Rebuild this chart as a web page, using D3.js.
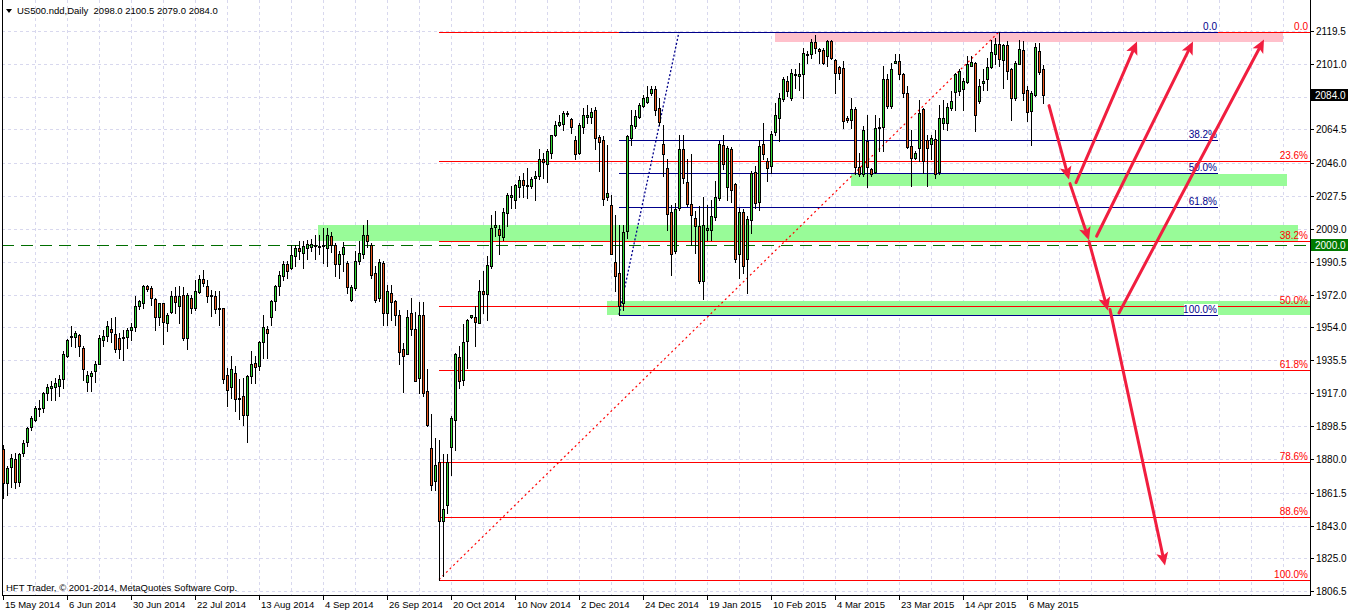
<!DOCTYPE html>
<html><head><meta charset="utf-8">
<script src="https://cdn.jsdelivr.net/npm/d3@7"></script>
<style>
body{margin:0;background:#fff;}
svg{display:block;font-family:"Liberation Sans",Arial,sans-serif;}
</style></head><body>
<svg id="c" width="1350" height="613"></svg>
<script>
// ---------------- DATA ----------------
const openP=[1885.6,1867.1,1876.0,1880.0,1867.7,1883.9,1890.0,1898.4,1902.3,1908.5,
1909.0,1916.9,1920.2,1920.8,1921.0,1925.2,1937.8,1948.2,1948.2,1949.6,
1942.3,1923.3,1926.6,1929.4,1933.3,1947.0,1949.0,1953.2,1950.4,1947.9,
1947.9,1948.2,1952.6,1954.0,1966.0,1967.7,1976.7,1975.8,1969.7,1959.9,
1967.4,1956.5,1962.4,1971.4,1966.0,1972.2,1947.9,1970.2,1964.6,1973.6,
1980.9,1977.2,1971.9,1971.6,1964.6,1964.6,1927.5,1920.5,1928.3,1914.6,
1915.5,1904.8,1926.6,1933.9,1932.2,1945.4,1953.2,1959.6,1968.6,1977.2,
1982.5,1989.2,1987.0,1993.7,1998.2,1995.4,1998.2,1998.8,1999.6,1998.5,
1999.6,1998.3,2004.8,2000.1,1989.0,1994.6,1989.9,1969.0,1975.9,1990.8,
1994.6,2005.2,2000.1,1984.3,1970.4,1989.9,1962.0,1973.1,1968.4,1960.5,
1941.5,1938.7,1962.1,1953.2,1925.8,1960.5,1918.1,1886.5,1867.8,1878.7,
1845.5,1854.8,1887.1,1902.0,1937.4,1924.3,1946.1,1959.7,1959.7,1956.4,
1974.4,1972.6,1988.0,2010.0,2008.9,2004.4,2017.9,2026.6,2024.9,2032.4,
2036.1,2033.7,2032.7,2037.4,2038.3,2048.2,2045.3,2051.4,2061.6,2066.8,
2067.6,2073.0,2070.4,2058.5,2051.4,2065.9,2071.3,2071.5,2075.6,2060.1,
2058.3,2026.8,2022.5,1990.5,1984.3,1967.6,2007.6,2059.8,2066.3,2071.5,
2077.8,2079.7,2084.9,2087.2,2076.6,2056.6,2043.0,2018.4,1996.4,2020.7,
2053.6,2035.2,2022.9,2015.1,2010.4,1979.6,2008.1,2008.1,2015.6,2026.2,
2055.7,2032.4,2053.6,2034.1,1994.6,2018.4,1991.8,2014.1,2040.6,2023.8,
2056.4,2046.7,2043.9,2062.9,2071.0,2081.6,2091.8,2081.8,2094.8,2094.6,
2095.2,2106.0,2106.4,2113.2,2109.2,2108.8,2105.4,2113.8,2103.2,2099.3,
2098.9,2071.0,2069.6,2076.0,2043.6,2039.3,2057.9,2042.5,2040.6,2065.7,
2065.9,2092.4,2077.5,2101.7,2103.0,2095.7,2084.9,2055.5,2048.6,2054.2,
2076.0,2058.3,2056.6,2059.2,2040.6,2067.8,2067.8,2076.6,2085.3,2085.8,
2087.2,2091.1,2100.2,2101.7,2080.3,2090.5,2092.4,2099.5,2106.4,2112.5,
2103.2,2111.4,2098.4,2081.8,2101.2,2108.8,2086.8,2074.7,2084.0,2108.6,
2098.0];
const highP=[1888.3,1876.6,1882.8,1883.9,1883.9,1891.1,1898.4,1904.3,1909.9,1913.5,
1918.0,1922.4,1923.8,1925.8,1927.5,1940.6,1947.6,1954.6,1951.8,1950.4,
1943.4,1929.4,1929.4,1935.0,1949.8,1952.6,1957.3,1959.1,1959.6,1950.7,
1952.6,1953.5,1956.3,1971.6,1969.4,1977.8,1977.8,1977.0,1970.5,1967.7,
1967.7,1961.9,1974.0,1976.4,1976.8,1976.4,1973.0,1972.2,1980.6,1983.4,
1985.9,1980.6,1975.0,1974.0,1973.9,1964.9,1931.1,1937.8,1932.5,1925.0,
1925.5,1927.5,1940.9,1937.7,1946.2,1960.5,1954.6,1969.4,1977.8,1985.3,
1990.9,1990.9,2000.1,2000.1,2002.1,2002.1,2002.9,2003.3,2005.7,2005.2,
2009.6,2009.6,2006.9,2001.1,1996.8,2001.3,1990.8,1977.8,1996.4,2002.0,
2010.8,2014.1,2001.1,1988.0,1991.8,1990.8,1977.8,1977.8,1969.4,1963.8,
1945.2,1963.8,1970.5,1962.7,1968.3,1967.9,1930.7,1905.7,1892.1,1890.8,
1882.8,1882.8,1904.2,1939.6,1943.7,1956.0,1958.6,1961.0,1966.0,1980.6,
1985.2,1993.6,2016.4,2018.8,2010.8,2020.7,2028.7,2032.7,2034.2,2038.7,
2040.4,2043.0,2038.0,2041.1,2053.6,2051.4,2053.6,2061.6,2069.1,2072.8,
2074.7,2074.7,2071.0,2060.7,2068.2,2076.6,2078.4,2076.6,2077.1,2061.6,
2060.7,2056.0,2028.1,2016.9,2011.3,2011.3,2061.6,2075.6,2075.6,2079.4,
2084.0,2088.6,2088.6,2088.6,2082.1,2066.7,2047.7,2022.5,2023.1,2061.1,
2061.6,2047.7,2050.5,2018.8,2021.6,2026.8,2022.5,2025.3,2035.5,2057.9,
2061.6,2055.1,2054.8,2034.6,2020.7,2020.1,2016.0,2041.1,2043.9,2058.5,
2068.2,2048.6,2063.5,2079.4,2084.9,2093.9,2094.2,2098.0,2098.0,2101.7,
2110.1,2108.2,2115.1,2117.5,2110.1,2110.1,2114.7,2114.7,2104.0,2099.8,
2102.6,2071.9,2082.1,2077.1,2051.4,2066.3,2072.8,2043.0,2072.8,2071.0,
2099.8,2095.2,2101.7,2106.4,2106.4,2096.1,2089.0,2064.4,2052.3,2081.2,
2076.6,2061.1,2061.6,2064.4,2078.4,2081.2,2079.4,2085.8,2096.1,2098.0,
2093.3,2105.4,2105.4,2102.0,2092.4,2098.0,2104.5,2114.4,2115.7,2119.0,
2112.0,2113.8,2098.9,2102.6,2114.7,2113.8,2088.6,2085.8,2112.9,2112.9,
2100.5];
const lowP=[1858.7,1860.4,1864.9,1864.3,1865.4,1882.2,1887.8,1896.4,1901.5,1904.3,
1906.5,1913.5,1913.5,1913.5,1915.5,1919.7,1937.5,1943.4,1942.6,1937.8,
1924.7,1918.3,1918.3,1923.3,1933.1,1943.4,1946.1,1945.4,1940.1,1936.7,
1935.6,1942.3,1947.0,1951.8,1964.1,1964.6,1974.2,1966.6,1952.6,1955.4,
1944.3,1951.7,1961.9,1962.1,1956.5,1947.0,1941.5,1961.9,1963.8,1973.0,
1977.0,1968.0,1960.2,1961.9,1955.4,1922.7,1909.9,1914.3,1907.1,1902.6,
1899.3,1890.0,1922.7,1922.8,1930.3,1936.7,1936.7,1955.4,1963.8,1972.2,
1980.6,1981.4,1986.2,1988.1,1991.8,1987.0,1991.8,1996.4,1991.8,1994.6,
1990.1,1988.0,1995.7,1982.4,1981.7,1985.2,1973.1,1968.4,1975.0,1989.0,
1992.7,1999.0,1981.5,1967.9,1968.4,1955.4,1955.4,1958.2,1955.4,1933.1,
1917.6,1938.7,1949.8,1923.6,1917.4,1915.3,1898.6,1863.2,1863.2,1812.9,
1814.7,1850.2,1871.6,1885.2,1920.0,1921.9,1931.2,1959.3,1943.7,1956.4,
1961.9,1958.2,1987.1,2004.8,1994.6,2002.9,2010.4,2020.7,2020.3,2026.8,
2026.8,2026.2,2031.8,2024.9,2036.9,2037.4,2035.0,2048.6,2060.7,2066.3,
2064.4,2071.9,2062.6,2047.7,2050.5,2062.6,2068.2,2068.2,2053.3,2041.1,
2022.5,2025.3,1994.6,1974.0,1961.0,1963.8,2003.9,2056.0,2065.5,2071.0,
2077.1,2079.4,2084.0,2072.3,2067.2,2038.3,2008.5,1983.4,1995.5,2019.7,
2034.6,2021.6,2000.1,1995.5,1978.7,1969.8,2002.9,2002.9,2014.1,2025.3,
2042.1,2025.3,2023.8,1990.3,1981.5,1984.3,1973.1,2006.7,2020.7,2019.7,
2048.1,2035.5,2040.2,2061.6,2057.9,2080.3,2083.0,2081.2,2087.7,2086.8,
2081.8,2101.7,2104.5,2107.3,2101.7,2100.8,2099.8,2103.9,2084.6,2092.8,
2065.4,2068.9,2065.4,2039.3,2038.3,2038.3,2032.4,2038.3,2040.2,2052.3,
2052.3,2076.6,2076.6,2101.7,2092.4,2082.7,2054.2,2033.1,2047.7,2046.7,
2040.2,2032.7,2047.7,2037.4,2039.8,2064.8,2064.4,2075.6,2075.6,2084.0,
2075.6,2090.5,2099.8,2063.5,2079.5,2086.8,2086.8,2098.9,2100.8,2099.8,
2087.7,2092.4,2069.6,2080.8,2100.8,2080.8,2069.1,2056.0,2083.0,2095.2,
2079.0];
const closeP=[1867.0,1875.0,1881.1,1867.7,1883.3,1889.5,1897.8,1903.4,1909.0,1908.8,
1917.4,1920.8,1921.3,1922.7,1925.2,1938.7,1947.0,1949.3,1950.7,1943.7,
1930.5,1927.5,1928.3,1933.3,1947.9,1949.3,1954.6,1951.2,1941.7,1941.7,
1948.2,1952.6,1954.0,1966.0,1968.6,1977.2,1975.5,1970.2,1959.6,1967.4,
1956.8,1961.0,1971.4,1968.0,1971.4,1947.9,1972.2,1964.4,1974.1,1980.9,
1978.4,1971.6,1971.4,1964.1,1964.1,1925.0,1919.1,1930.5,1913.8,1914.3,
1904.8,1926.6,1933.1,1931.7,1945.6,1954.0,1950.7,1968.6,1977.2,1983.4,
1989.2,1985.3,1994.5,1998.2,1996.5,1999.3,2000.7,2000.7,2000.1,1999.2,
2000.1,2005.2,2000.1,1989.0,1994.6,1998.9,1976.5,1976.5,1990.8,1995.5,
2005.7,2002.4,1983.4,1969.0,1990.2,1962.0,1974.0,1967.9,1960.5,1939.9,
1938.1,1959.7,1953.2,1924.1,1961.0,1916.9,1899.1,1865.6,1877.2,1845.5,
1852.4,1878.7,1903.3,1938.7,1923.7,1945.7,1957.7,1960.5,1956.7,1974.0,
1972.6,1988.6,2009.5,2010.8,2005.3,2018.4,2027.9,2027.9,2033.7,2036.1,
2033.7,2032.7,2036.9,2038.7,2048.1,2046.2,2052.3,2061.1,2067.2,2068.5,
2073.8,2073.8,2065.9,2050.8,2066.7,2072.8,2072.8,2074.1,2059.8,2057.6,
2025.7,2029.0,1995.0,1982.4,1965.6,2007.2,2060.7,2067.2,2071.9,2078.4,
2081.8,2082.7,2087.2,2075.2,2068.5,2050.5,2017.3,1995.0,2020.1,2053.6,
2037.4,2022.9,2016.9,2010.4,1979.6,2010.9,2009.5,2016.0,2026.8,2056.4,
2044.9,2054.2,2030.9,1991.8,2018.4,1988.4,2014.5,2040.2,2023.1,2055.5,
2050.5,2043.0,2062.0,2072.4,2082.1,2092.8,2085.8,2096.1,2095.7,2095.2,
2107.3,2106.8,2113.2,2110.1,2108.6,2101.7,2113.8,2104.5,2096.1,2096.1,
2069.1,2069.6,2076.0,2043.6,2039.3,2064.4,2043.6,2039.8,2065.4,2066.1,
2092.4,2077.5,2098.4,2103.0,2095.2,2084.9,2054.8,2048.6,2051.4,2073.8,
2047.1,2054.2,2059.8,2039.3,2071.0,2071.0,2077.1,2080.6,2095.2,2097.0,
2091.4,2101.3,2102.0,2072.8,2089.0,2091.4,2099.3,2107.6,2112.0,2103.6,
2111.4,2097.0,2081.8,2101.7,2109.2,2084.9,2074.1,2084.6,2110.7,2096.5,
2084.0];

const dateLabels=["15 May 2014","6 Jun 2014","30 Jun 2014","22 Jul 2014","13 Aug 2014","4 Sep 2014",
"26 Sep 2014","20 Oct 2014","10 Nov 2014","2 Dec 2014","24 Dec 2014","19 Jan 2015","10 Feb 2015",
"4 Mar 2015","23 Mar 2015","14 Apr 2015","6 May 2015"];
const barsPerLabel=16;
const priceTicks=[2119.5,2101.0,2082.5,2064.5,2046.0,2027.5,2009.0,1990.5,1972.0,1954.0,1935.5,1917.0,1898.5,1880.0,1861.5,1843.0,1825.0,1806.5];
const tickLabels=["2119.5","2101.0","2082.5","2064.5","2046.0","2027.5","2009.0","1990.5","1972.0","1954.0","1935.5","1917.0","1898.5","1880.0","1861.5","1843.0","1825.0","1806.5"];

const title="US500.ndd,Daily  2098.0 2100.5 2079.0 2084.0";
const copyright="HFT Trader, \u00a9 2001-2014, MetaQuotes Software Corp.";
const lastPrice=2084.0;
const levelLine=2000.0;

// Fibonacci retracements: [startBar, startPrice(100%), endBar, endPrice(0%)]
const redFibAnchor=[109,1812.9,249,2119.0];
const redFibLevels=[0,23.6,38.2,50.0,61.8,78.6,88.6,100.0];
const blueFibAnchor=[154,1960.9,169,2119.0];
const blueFibEndBar=303.75;
const blueFibLevels=[0,38.2,50.0,61.8,100.0];

// zones: [fromBar, toBar, topPrice, bottomPrice]
const greenZones=[[78.75,323.75,2010.8,2002.4],[212,321,2039.8,2032.6],[151,330,1968.8,1961.0]];
const pinkZones=[[193,320,2118.9,2113.6]];
// arrows: [fromBar, fromPrice, toBar, toPrice]
const arrows=[[261.5,2077.8,266.5,2036.5],[268.25,2034.8,283.5,2113.6],
[266.75,2034.2,271.5,2002.6],[273.4,2004.8,297.5,2113.6],
[271.5,2001.8,276.2,1963.3],[279,1961.9,315.25,2114.7],
[276.75,1963.8,290.5,1820.7]];

// ---------------- DRAW ----------------
const L=2, R=1310, T=0, B=595;
const svg=d3.select("#c");
const x=d3.scaleLinear().domain([0,326.75]).range([3,R]);
const y=d3.scaleLinear().domain([1806.5,2119.5]).range([591,31]);
const px=v=>Math.round(x(v));
const py=v=>Math.round(y(v));

svg.append("defs").append("clipPath").attr("id","plot").append("rect")
  .attr("x",L).attr("y",T).attr("width",R-L).attr("height",B-T);
const g=svg.append("g").attr("clip-path","url(#plot)");

// grid
const gridCol="#d8d8ee";
const vg=d3.range(8,327,8);
g.selectAll(".vg").data(vg).join("line")
  .attr("x1",d=>px(d)+0.5).attr("x2",d=>px(d)+0.5).attr("y1",T).attr("y2",B)
  .attr("stroke",gridCol).attr("stroke-dasharray","3,3");
g.selectAll(".hg").data(priceTicks).join("line")
  .attr("x1",L).attr("x2",R).attr("y1",d=>Math.round(y(d))+0.5).attr("y2",d=>Math.round(y(d))+0.5)
  .attr("stroke",gridCol).attr("stroke-dasharray","3,3");

// zones
const zoneRect=(data,col)=>g.append("g").selectAll("rect").data(data).join("rect")
  .attr("x",d=>px(d[0])).attr("width",d=>px(d[1])-px(d[0]))
  .attr("y",d=>py(d[2])).attr("height",d=>py(d[3])-py(d[2]))
  .attr("fill",col);
zoneRect(greenZones,"#98fb98");
zoneRect(pinkZones,"#ffc0cb");

// red fib
const [rb0,rp0,rb1,rp1]=redFibAnchor;
const redLv=redFibLevels.map(l=>({l,p:rp1-(rp1-rp0)*l/100}));
g.selectAll(".rf").data(redLv).join("line")
  .attr("x1",px(rb0)).attr("x2",R).attr("y1",d=>py(d.p)+0.5).attr("y2",d=>py(d.p)+0.5)
  .attr("stroke","#ff0000").attr("stroke-width",1).attr("shape-rendering","crispEdges");
g.append("line").attr("x1",x(rb0)).attr("y1",y(rp0)).attr("x2",x(rb1)).attr("y2",y(rp1))
  .attr("stroke","#ff0000").attr("stroke-width",1.2).attr("stroke-dasharray","2,3");

// blue fib
const [bb0,bp0,bb1,bp1]=blueFibAnchor;
const blueLv=blueFibLevels.map(l=>({l,p:bp1-(bp1-bp0)*l/100}));
g.selectAll(".bf").data(blueLv).join("line")
  .attr("x1",px(bb0)).attr("x2",px(blueFibEndBar)).attr("y1",d=>py(d.p)+0.5).attr("y2",d=>py(d.p)+0.5)
  .attr("stroke","#00008b").attr("stroke-width",1).attr("shape-rendering","crispEdges");
g.append("line").attr("x1",x(bb0)).attr("y1",y(bp0)).attr("x2",x(bb1)).attr("y2",y(bp1))
  .attr("stroke","#00008b").attr("stroke-width",1.3).attr("stroke-dasharray","2,2");

// 2000 level
g.append("line").attr("x1",L).attr("x2",R).attr("y1",py(levelLine)+0.5).attr("y2",py(levelLine)+0.5)
  .attr("stroke","#006e00").attr("stroke-width",1).attr("stroke-dasharray","12,7");

// candles
const bars=d3.range(openP.length).map(i=>({i,o:openP[i],h:highP[i],l:lowP[i],c:closeP[i]}));
const cg=g.append("g");
cg.selectAll(".w").data(bars).join("line")
  .attr("x1",d=>px(d.i)+0.5).attr("x2",d=>px(d.i)+0.5)
  .attr("y1",d=>py(d.h)).attr("y2",d=>py(d.l)+1)
  .attr("stroke","#000").attr("stroke-width",1);
cg.selectAll(".b").data(bars).join("rect")
  .attr("x",d=>px(d.i)-0.5).attr("width",2)
  .attr("y",d=>py(Math.max(d.o,d.c))+0.5)
  .attr("height",d=>Math.max(1,py(Math.min(d.o,d.c))-py(Math.max(d.o,d.c))))
  .attr("fill",d=>d.c>=d.o?"#30d630":"#e8561c")
  .attr("stroke","#000").attr("stroke-width",1);

// fib labels
const fmt=l=>l===0?"0.0":l.toFixed(1)+"%";
svg.append("g").selectAll("text").data(redLv).join("text")
  .attr("x",R-2).attr("y",d=>py(d.p)-2).attr("text-anchor","end")
  .attr("font-size",10).attr("fill","#ff0000").text(d=>fmt(d.l));
const bl=svg.append("g");
blueLv.forEach(d=>{
  const tx=px(blueFibEndBar)-1, ty=py(d.p)-2;
  if(d.l===100){
    bl.append("rect").attr("x",tx-33).attr("y",ty-9).attr("width",34).attr("height",11).attr("fill","#fff");
  }
  bl.append("text").attr("x",tx).attr("y",ty).attr("text-anchor","end")
    .attr("font-size",10).attr("fill","#00008b").text(fmt(d.l));
});

// arrows
const ag=svg.append("g");
const aCol="#f11e3f";
arrows.forEach(a=>{
  const x0=x(a[0]),y0=y(a[1]),x1=x(a[2]),y1=y(a[3]);
  const dx=x1-x0,dy=y1-y0,len=Math.hypot(dx,dy),ux=dx/len,uy=dy/len;
  const hl=13,hw=6;
  const bx=x1-ux*hl,by=y1-uy*hl;
  ag.append("line").attr("x1",x0).attr("y1",y0).attr("x2",bx+ux*2).attr("y2",by+uy*2)
    .attr("stroke",aCol).attr("stroke-width",3).attr("stroke-linecap","round");
  ag.append("polygon").attr("points",[[x1,y1],[bx-uy*hw,by+ux*hw],[bx+ux*3,by+uy*3],[bx+uy*hw,by-ux*hw]].map(p=>p.join(",")).join(" "))
    .attr("fill",aCol);
});

// frame / axes
svg.append("line").attr("x1",L+0.5).attr("x2",L+0.5).attr("y1",T).attr("y2",B).attr("stroke","#000");
svg.append("line").attr("x1",R+0.5).attr("x2",R+0.5).attr("y1",T).attr("y2",B+1).attr("stroke","#000");
svg.append("line").attr("x1",L).attr("x2",R+1).attr("y1",B+0.5).attr("y2",B+0.5).attr("stroke","#000");

// y ticks & labels
const curY=py(lastPrice);
const yt=svg.append("g").attr("font-size",10).attr("fill","#000");
priceTicks.forEach((p,k)=>{
  const ty=Math.round(y(p))+0.5;
  if(Math.abs(ty-curY)<8) return;
  yt.append("line").attr("x1",R).attr("x2",R+4).attr("y1",ty).attr("y2",ty).attr("stroke","#000");
  yt.append("text").attr("x",R+6).attr("y",ty+3.5).text(tickLabels[k]);
});
// level label and current price label
const lvY=py(levelLine);
svg.append("rect").attr("x",R+1).attr("y",lvY-6).attr("width",37).attr("height",12).attr("fill","#007a00");
svg.append("text").attr("x",R+5).attr("y",lvY+4).attr("font-size",10).attr("fill","#fff").text(levelLine.toFixed(1));
svg.append("rect").attr("x",R+1).attr("y",curY-6).attr("width",37).attr("height",12).attr("fill","#000");
svg.append("text").attr("x",R+5).attr("y",curY+4).attr("font-size",10).attr("fill","#fff").text(lastPrice.toFixed(1));

// x ticks & labels
const xt=svg.append("g").attr("font-size",9.5).attr("fill","#000");
dateLabels.forEach((lab,k)=>{
  const bx=px(k*barsPerLabel);
  xt.append("line").attr("x1",bx+0.5).attr("x2",bx+0.5).attr("y1",B).attr("y2",B+5).attr("stroke","#000");
  xt.append("text").attr("x",bx+2).attr("y",608).text(lab);
});

// title
svg.append("path").attr("d","M6,9 L12,9 L9,13 Z").attr("fill","#000");
svg.append("text").attr("x",17).attr("y",14).attr("font-size",9.5).attr("fill","#000")
  .style("white-space","pre").text(title);
svg.append("text").attr("x",6).attr("y",591).attr("font-size",9.5).attr("fill","#000").text(copyright);
</script>
</body></html>
